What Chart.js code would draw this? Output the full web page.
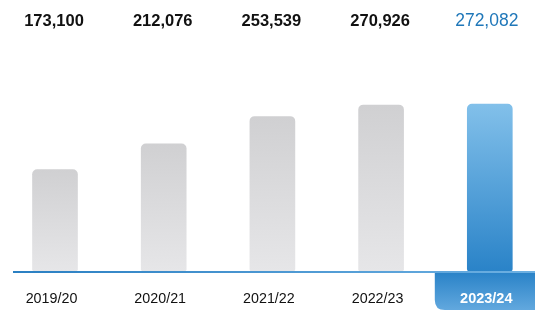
<!DOCTYPE html>
<html>
<head>
<meta charset="utf-8">
<style>
  html, body { margin: 0; padding: 0; background: #fff; }
  canvas { display: block; }
</style>
</head>
<body>
<canvas id="chart" width="535" height="310"></canvas>
<script src="https://cdn.jsdelivr.net/npm/chart.js@4/dist/chart.umd.min.js"></script>
<script>
// academic years and totals
const years = ['2019/20', '2020/21', '2021/22', '2022/23', '2023/24'];
const totals = [173100, 212076, 253539, 270926, 272082];
const current = 4; // highlighted year
const axisMin = 20000;

const FONT = '"Liberation Sans", Arial, Helvetica, sans-serif';

function barFill(ctx) {
  const chart = ctx.chart;
  const area = chart.chartArea;
  if (!area || ctx.parsed == null) return '#ddd';
  const top = chart.scales.y.getPixelForValue(ctx.parsed.y);
  const g = chart.ctx.createLinearGradient(0, top, 0, area.bottom);
  if (ctx.dataIndex === current) {
    g.addColorStop(0, '#82c0ea');
    g.addColorStop(1, '#2a83c8');
  } else {
    g.addColorStop(0, '#d0d0d2');
    g.addColorStop(1, '#e6e6e8');
  }
  return g;
}

// blue tab behind the current year's label
const tabPlugin = {
  id: 'tab',
  beforeDraw(chart) {
    const { ctx, chartArea, width, height } = chart;
    const x = chart.scales.x.getPixelForValue(current) - 55;
    const y = chartArea.bottom + 2;
    const r = 10;
    const g = ctx.createLinearGradient(0, y, 0, height);
    g.addColorStop(0, '#2a83c8');
    g.addColorStop(1, '#62a8de');
    ctx.save();
    ctx.fillStyle = g;
    ctx.beginPath();
    ctx.moveTo(x, y);
    ctx.lineTo(width, y);
    ctx.lineTo(width, height);
    ctx.lineTo(x + r, height);
    ctx.quadraticCurveTo(x, height, x, height - r);
    ctx.closePath();
    ctx.fill();
    ctx.restore();
  }
};

// baseline and value labels above the chart
const labelPlugin = {
  id: 'values',
  afterDatasetsDraw(chart) {
    const { ctx, chartArea, width } = chart;
    ctx.save();
    const lg = ctx.createLinearGradient(13, 0, width, 0);
    lg.addColorStop(0, '#2a7fc2');
    lg.addColorStop(1, '#6db0e2');
    ctx.fillStyle = lg;
    ctx.fillRect(13, chartArea.bottom, width - 13, 2);

    const meta = chart.getDatasetMeta(0);
    ctx.textAlign = 'center';
    ctx.textBaseline = 'middle';
    meta.data.forEach((bar, i) => {
      if (i === current) {
        ctx.fillStyle = '#1f77b9';
        ctx.font = '17.5px ' + FONT;
        ctx.fillText(totals[i].toLocaleString('en-US'), bar.x - 3, 21);
      } else {
        ctx.fillStyle = '#111';
        ctx.font = 'bold 16.5px ' + FONT;
        ctx.fillText(totals[i].toLocaleString('en-US'), bar.x - 1, 21);
      }
    });
    ctx.restore();
  }
};

new Chart(document.getElementById('chart'), {
  type: 'bar',
  data: {
    labels: years,
    datasets: [{
      data: totals,
      base: axisMin,
      backgroundColor: barFill,
      barThickness: 45,
      borderRadius: { topLeft: 5, topRight: 5, bottomLeft: 2, bottomRight: 2 },
      borderSkipped: false,
      clip: false
    }]
  },
  options: {
    responsive: false,
    animation: false,
    layout: { padding: { left: 55, right: 43.4, top: 50, bottom: 0 } },
    plugins: { legend: { display: false }, tooltip: { enabled: false } },
    scales: {
      x: {
        offset: false,
        grid: { display: false, drawTicks: false },
        border: { display: false },
        afterFit(scale) { scale.height = 39; },
        ticks: {
          padding: 19,
          labelOffset: -3.5,
          maxRotation: 0,
          autoSkip: false,
          color: years.map((_, i) => i === current ? '#ffffff' : '#111111'),
          font: (c) => ({ family: FONT, size: c.index === current ? 14.5 : 14.3, weight: c.index === current ? 'bold' : 'normal' })
        }
      },
      y: {
        display: false,
        min: axisMin,
        max: 354000
      }
    }
  },
  plugins: [tabPlugin, labelPlugin]
});
</script>
</body>
</html>
